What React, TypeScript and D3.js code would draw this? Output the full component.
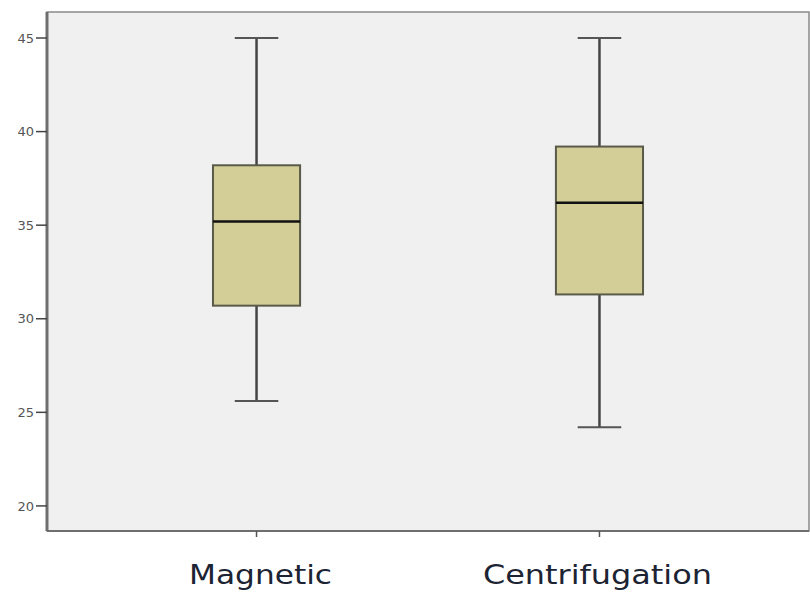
import * as d3 from "d3"

const CATEGORIES = ["Magnetic", "Centrifugation"]
const WHISKER_LOW = [25.6, 24.2]
const Q1 = [30.7, 31.3]
const MEDIAN = [35.2, 36.2]
const Q3 = [38.2, 39.2]
const WHISKER_HIGH = [45, 45]
const Y_TICKS = [20, 25, 30, 35, 40, 45]

const WIDTH = 810
const HEIGHT = 592
const PLOT = { left: 47, top: 12, right: 809, bottom: 531 }
// rendered widths / nudges of the category labels in the original
const LABEL_WIDTHS = [143, 229]
const LABEL_DX = [4, -2]

export default function App() {
  const x = d3
    .scalePoint<string>()
    .domain(CATEGORIES)
    .range([PLOT.left, PLOT.right])
    .padding(0.611)

  const y = d3
    .scaleLinear()
    .domain([18.66, 46.39])
    .range([PLOT.bottom, PLOT.top])

  const step = x.step()
  const boxWidth = step * 0.254
  const capWidth = boxWidth * 0.5

  return (
    <div style={{ position: "absolute", left: 0, top: 0 }}>
      <svg width={WIDTH} height={HEIGHT} style={{ display: "block", background: "#fff" }}>
        <rect
          x={PLOT.left}
          y={PLOT.top}
          width={PLOT.right - PLOT.left}
          height={PLOT.bottom - PLOT.top}
          fill="#f0f0f0"
          stroke="#8a8a8a"
          strokeWidth={1.5}
        />
        {/* axis lines */}
        <line x1={PLOT.left} x2={PLOT.left} y1={PLOT.top} y2={PLOT.bottom} stroke="#6e6e6e" strokeWidth={3} />
        <line x1={PLOT.left} x2={PLOT.right} y1={PLOT.bottom} y2={PLOT.bottom} stroke="#6e6e6e" strokeWidth={2} />

        {Y_TICKS.map((t) => (
          <g key={t} transform={`translate(0, ${y(t)})`}>
            <line x1={36} x2={PLOT.left} stroke="#444" strokeWidth={1.5} />
            <text
              x={34}
              dy="0.36em"
              textAnchor="end"
              fontFamily="DejaVu Sans, sans-serif"
              fontSize={13}
              fill="#555"
            >
              {t}
            </text>
          </g>
        ))}

        {CATEGORIES.map((c, i) => {
          const cx = x(c) ?? 0
          return (
            <g key={c}>
              <line x1={cx} x2={cx} y1={PLOT.bottom} y2={PLOT.bottom + 6} stroke="#555" strokeWidth={1.5} />
              <line x1={cx} x2={cx} y1={y(WHISKER_HIGH[i])} y2={y(Q3[i])} stroke="#444" strokeWidth={2.5} />
              <line x1={cx} x2={cx} y1={y(Q1[i])} y2={y(WHISKER_LOW[i])} stroke="#444" strokeWidth={2.5} />
              <line
                x1={cx - capWidth / 2}
                x2={cx + capWidth / 2}
                y1={y(WHISKER_HIGH[i])}
                y2={y(WHISKER_HIGH[i])}
                stroke="#555"
                strokeWidth={2}
              />
              <line
                x1={cx - capWidth / 2}
                x2={cx + capWidth / 2}
                y1={y(WHISKER_LOW[i])}
                y2={y(WHISKER_LOW[i])}
                stroke="#555"
                strokeWidth={2}
              />
              <rect
                x={cx - boxWidth / 2}
                y={y(Q3[i])}
                width={boxWidth}
                height={y(Q1[i]) - y(Q3[i])}
                fill="#d3ce97"
                stroke="#5a5a4a"
                strokeWidth={2}
              />
              <line
                x1={cx - boxWidth / 2}
                x2={cx + boxWidth / 2}
                y1={y(MEDIAN[i])}
                y2={y(MEDIAN[i])}
                stroke="#111"
                strokeWidth={2.5}
              />
              <text
                x={cx + LABEL_DX[i]}
                y={584}
                textAnchor="middle"
                fontFamily="DejaVu Sans, sans-serif"
                fontSize={26}
                textLength={LABEL_WIDTHS[i]}
                lengthAdjust="spacingAndGlyphs"
                fill="#1c2433"
              >
                {c}
              </text>
            </g>
          )
        })}
      </svg>
    </div>
  )
}
